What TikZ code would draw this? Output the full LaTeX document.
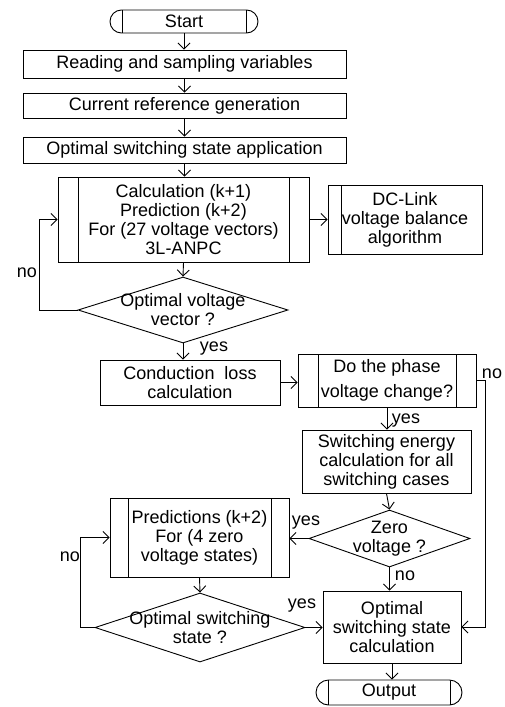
\documentclass[tikz,border=0pt]{standalone}
\usepackage{fontspec}
\setmainfont{Liberation Sans}
\usetikzlibrary{arrows.meta,shapes,positioning,calc}

\tikzset{
  box/.style={draw, rectangle, align=center, inner sep=0pt},
  process/.style={box, path picture={
      \draw ([xshift=#1]path picture bounding box.north west) -- ([xshift=#1]path picture bounding box.south west);
      \draw ([xshift=-#1]path picture bounding box.north east) -- ([xshift=-#1]path picture bounding box.south east);}},
  process/.default=20pt,
  sideproc/.style={box, path picture={
      \draw ([xshift=13pt]path picture bounding box.north west) -- ([xshift=13pt]path picture bounding box.south west);}},
  terminal/.style={draw, rounded rectangle, inner sep=0pt, minimum height=23pt, path picture={
      \draw ([xshift=12pt]path picture bounding box.north west) -- ([xshift=12pt]path picture bounding box.south west);
      \draw ([xshift=-12pt]path picture bounding box.north east) -- ([xshift=-12pt]path picture bounding box.south east);}},
  decision/.style={draw, diamond, inner sep=0pt},
  arr/.style={-{Straight Barb[length=6pt,width=12pt]}},
  lbl/.style={inner sep=0pt}
}

\begin{document}
\begin{tikzpicture}[x=1pt, y=-1pt, line width=0.9pt,
    font=\fontsize{18}{19}\selectfont]
    \useasboundingbox (0,0) rectangle (504,707);

    % main column
    \node[terminal, minimum width=148pt] (start) at (184,21.5) {Start};
    \node[box, minimum width=323pt, minimum height=28pt] (read) at (184.5,64) {Reading and sampling variables};
    \node[box, minimum width=323pt, minimum height=25pt] (curr) at (184.5,105.5) {Current reference generation};
    \node[box, minimum width=323pt, minimum height=26pt] (appl) at (184.5,150) {Optimal switching state application};
    \node[process=20pt, minimum width=251pt, minimum height=85pt] (calc) at (183.5,219.5) {Calculation (k+1)\\Prediction (k+2)\\For (27 voltage vectors)\\3L-ANPC};
    \node[sideproc, minimum width=154pt, minimum height=69pt] (dclink) at (405,219.5) {DC-Link\\voltage balance\\algorithm};
    \node[decision, minimum width=210pt, minimum height=66pt,
          label={[align=center]center:Optimal voltage\\vector ?}] (vopt) at (183,310) {};
    \node[box, minimum width=180pt, minimum height=45pt] (closs) at (190,382.5) {Conduction\ \ loss\\calculation};
    \node[process=20pt, minimum width=178pt, minimum height=53pt] (phase) at (387,380.5) {Do the phase\\[6pt]voltage change?};
    \node[box, minimum width=169pt, minimum height=63pt] (swen) at (386.5,461.5) {Switching energy\\calculation for all\\switching cases};
    \node[decision, minimum width=161pt, minimum height=57pt,
          label={[align=center]center:Zero\\voltage ?}] (zero) at (389.5,538.5) {};
    \node[process=18pt, minimum width=179pt, minimum height=79pt] (pred) at (199.5,537.5) {Predictions (k+2)\\For (4 zero\\voltage states)};
    \node[decision, minimum width=210pt, minimum height=69pt,
          label={[align=center]center:Optimal switching\\state ?}] (sopt) at (200,627.5) {};
    \node[box, minimum width=138pt, minimum height=72pt] (scalc) at (392,627) {Optimal\\switching state\\calculation};
    \node[terminal, minimum width=146pt, minimum height=25pt] (output) at (389,692.5) {Output};

    % connectors
    \draw[arr] (start.south) -- (start.south |- read.north);
    \draw[arr] (read.south) -- (read.south |- curr.north);
    \draw[arr] (curr.south) -- (curr.south |- appl.north);
    \draw[arr] (appl.south) -- (appl.south |- calc.north);
    \draw[arr] (calc.east) -- (dclink.west);
    \draw[arr] (calc.south) -- (vopt.north);
    \draw[arr] (vopt.west) -- ++(-38,0) |- (calc.west);
    \draw[arr] (vopt.south) -- (vopt.south |- closs.north);
    \draw[arr] (closs.east) -- (closs.east -| phase.west);
    \draw[arr] (phase.east) -- ++(9,0) |- (scalc.east);
    \draw[arr] (phase.south) -- (phase.south |- swen.north);
    \draw[arr] (swen.south) -- (zero.north);
    \draw[arr] (zero.west) -- (zero.west -| pred.east);
    \draw[arr] (zero.south) -- (zero.south |- scalc.north);
    \draw[arr] (pred.south) -- (sopt.north);
    \draw[arr] (sopt.east) -- (sopt.east -| scalc.west);
    \draw[arr] (sopt.west) -- ++(-14,0) |- (pred.west);
    \draw[arr] (scalc.south) -- (scalc.south |- output.north);

    % branch labels
    \node[lbl] (no1) at (27,273) {no};
    \node[lbl] (yes1) at (214,349) {yes};
    \node[lbl] (no2) at (492,374) {no};
    \node[lbl] (yes2) at (406,421) {yes};
    \node[lbl] (yes3) at (306,523) {yes};
    \node[lbl] (no3) at (405,576) {no};
    \node[lbl] (yes4) at (302,606) {yes};
    \node[lbl] (no4) at (70,557) {no};
\end{tikzpicture}
\end{document}
